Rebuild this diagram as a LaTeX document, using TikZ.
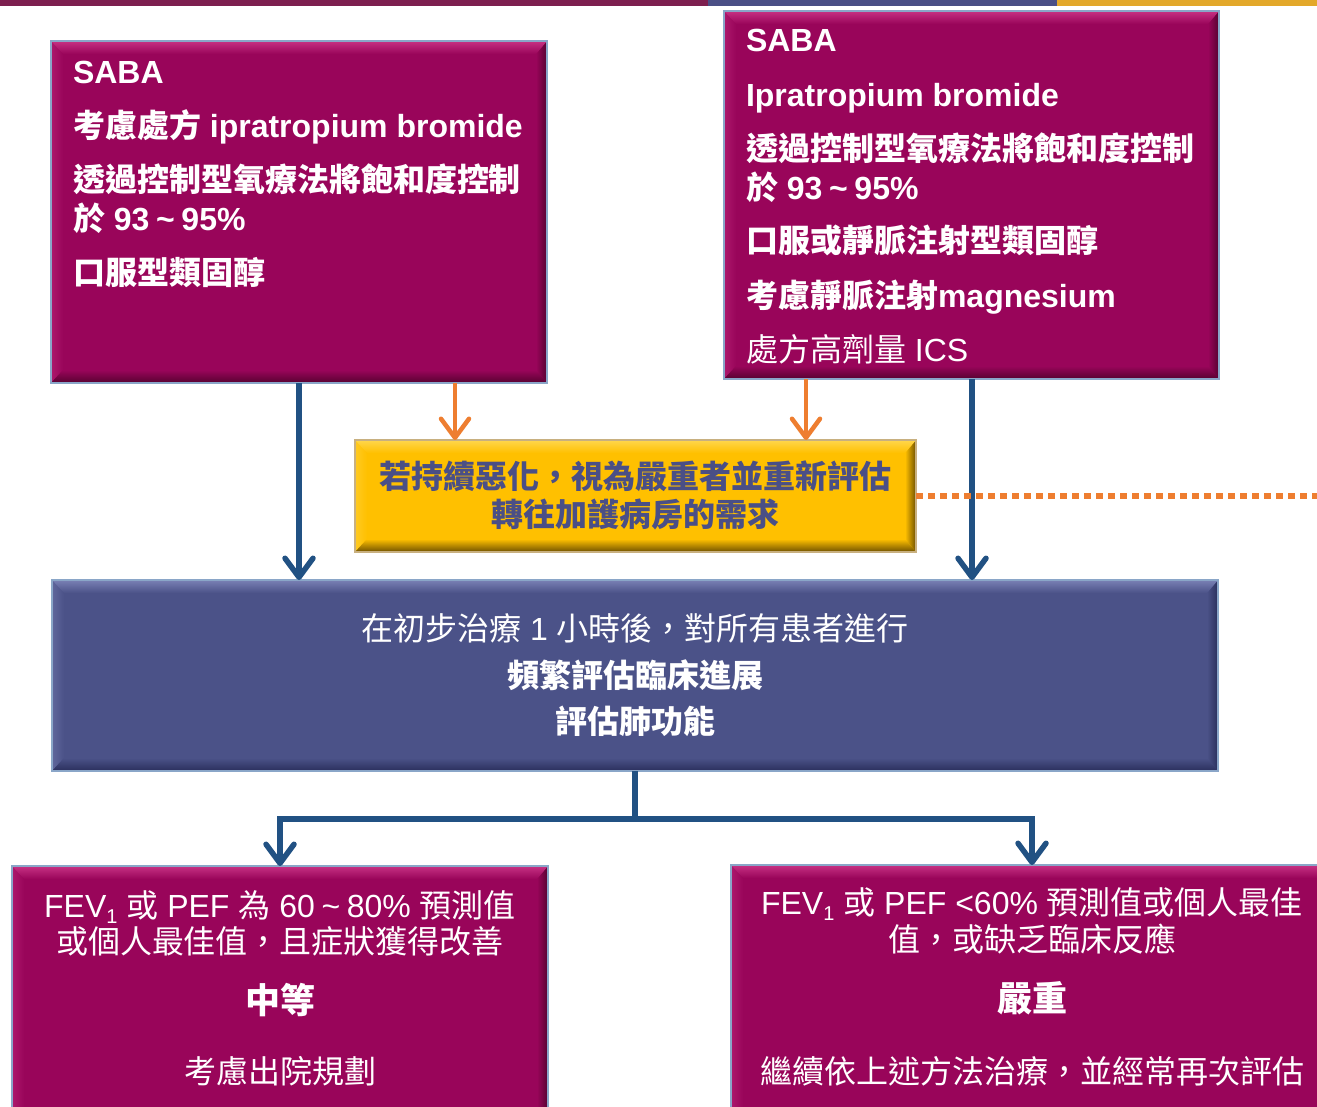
\documentclass[tikz,border=0pt]{standalone}
\usepackage{fontspec}
\setmainfont{Liberation Sans}
\newfontfamily\cjk{Noto Sans CJK TC}
\usetikzlibrary{arrows.meta}
\definecolor{mag}{HTML}{99055A}
\definecolor{magL}{HTML}{D23C8E}
\definecolor{magD}{HTML}{560230}
\definecolor{outl}{HTML}{8AA6C8}
\definecolor{slate}{HTML}{4B5288}
\definecolor{slateL}{HTML}{858CC0}
\definecolor{slateD}{HTML}{2A2F5C}
\definecolor{gold}{HTML}{FFC000}
\definecolor{goldL}{HTML}{FFDC60}
\definecolor{goldD}{HTML}{6E5000}
\definecolor{goutl}{HTML}{C8B080}
\definecolor{ytext}{HTML}{4A4F86}
\definecolor{arrblue}{HTML}{215183}
\definecolor{arrorange}{HTML}{EE7E30}
\definecolor{barM}{HTML}{7D1F4F}
\definecolor{barB}{HTML}{4B4F86}
\definecolor{barG}{HTML}{E3A82A}
\newcommand\zhx[1]{{\cjk #1}}
% small centred wave dash
\newcommand\zwave{\makebox[1em]{\textasciitilde}}
\newcommand\subone{\raisebox{-6pt}{\fontsize{20pt}{20pt}\selectfont 1}}
\tikzset{
  bevelbox/.style n args={3}{rectangle, inner sep=0pt, outer sep=0pt, fill=#1, draw=outl, line width=1.5pt,
    path picture={
      \path (path picture bounding box.north west) coordinate (pnw)
            (path picture bounding box.north east) coordinate (pne)
            (path picture bounding box.south west) coordinate (psw)
            (path picture bounding box.south east) coordinate (pse);
      \shade[left color=#2!35!#1, right color=#1] (pnw) -- ([shift={(12pt,-13pt)}]pnw) -- ([shift={(12pt,13pt)}]psw) -- (psw) -- cycle;
      \shade[left color=#1, right color=#3] (pne) -- ([shift={(-11pt,-13pt)}]pne) -- ([shift={(-11pt,13pt)}]pse) -- (pse) -- cycle;
      \shade[top color=#1, bottom color=#3] (psw) -- ([shift={(12pt,13pt)}]psw) -- ([shift={(-11pt,13pt)}]pse) -- (pse) -- cycle;
      \shade[top color=#2!80!#1, bottom color=#1] (pnw) -- (pne) -- ([shift={(-11pt,-13pt)}]pne) -- ([shift={(12pt,-13pt)}]pnw) -- cycle;
    }},
  txt/.style={inner sep=0pt, outer sep=0pt, text=white, font=\fontsize{32pt}{38pt}\selectfont},
  tl/.style={txt, anchor=base west, font=\fontsize{32pt}{38pt}\selectfont\bfseries},
  tc/.style={txt, anchor=base},
  tcb/.style={txt, anchor=base, font=\fontsize{32pt}{38pt}\selectfont\bfseries},
  big/.style={txt, anchor=base, font=\fontsize{35pt}{40pt}\selectfont\bfseries},
  ty/.style={txt, anchor=base, text=ytext, font=\fontsize{32pt}{38pt}\selectfont\bfseries},
  barrow/.style={draw=arrblue, line width=5.5pt, -{Straight Barb[length=19pt, width=28pt, round]}},
  oarrow/.style={draw=arrorange, line width=4.5pt, -{Straight Barb[length=19pt, width=28pt, round]}},
  bline/.style={draw=arrblue, line width=5.5pt},
  odots/.style={draw=arrorange, line width=6.5pt, dash pattern=on 6.5pt off 5.5pt},
}
\begin{document}
\begin{tikzpicture}[x=1pt,y=-1pt]
\useasboundingbox (0,0) rectangle (1317,1106);
\fill[white] (0,0) rectangle (1317,1106);
% top bar
\fill[barM] (0,0) rectangle (708,6);
\fill[barB] (708,0) rectangle (1057,6);
\fill[barG] (1057,0) rectangle (1317,6);

% boxes
\node[bevelbox={mag}{magL}{magD}, minimum width=496pt, minimum height=342pt, anchor=north west] (A) at (51,41) {};
\node[bevelbox={mag}{magL}{magD}, minimum width=495pt, minimum height=368pt, anchor=north west] (B) at (724,11) {};
\node[bevelbox={gold}{goldL}{goldD}, draw=goutl, minimum width=561pt, minimum height=112pt, anchor=north west] (Y) at (355,440) {};
\node[bevelbox={slate}{slateL}{slateD}, minimum width=1166pt, minimum height=191pt, anchor=north west] (M) at (52,580) {};
\node[bevelbox={mag}{magL}{magD}, minimum width=536pt, minimum height=264pt, anchor=north west] (L) at (12,866) {};
\node[bevelbox={mag}{magL}{magD}, minimum width=602pt, minimum height=265pt, anchor=north west] (R) at (731,865) {};

% box A text
\node[tl] (a1) at (73,83) {SABA};
\node[tl] (a2) at (73,137) {\zhx{考慮處方} ipratropium bromide};
\node[tl] (a3) at (73,191) {\zhx{透過控制型氧療法將飽和度控制}};
\node[tl] (a4) at (73,230) {\zhx{於} 93\zwave95\%};
\node[tl] (a5) at (73,284) {\zhx{口服型類固醇}};

% box B text
\node[tl] (b1) at (746,51) {SABA};
\node[tl] (b2) at (746,106) {Ipratropium bromide};
\node[tl] (b3) at (746,160) {\zhx{透過控制型氧療法將飽和度控制}};
\node[tl] (b4) at (746,199) {\zhx{於} 93\zwave95\%};
\node[tl] (b5) at (746,252) {\zhx{口服或靜脈注射型類固醇}};
\node[tl] (b6) at (746,307) {\zhx{考慮靜脈注射}magnesium};
\node[txt, anchor=base west] (b7) at (746,361) {\zhx{處方高劑量} ICS};

% yellow text
\node[ty] (y1) at (635,488) {\zhx{若持續惡化，視為嚴重者並重新評估}};
\node[ty] (y2) at (635,526) {\zhx{轉往加護病房的需求}};

% middle text
\node[tc] (m1) at (635,640) {\zhx{在初步治療} 1 \zhx{小時後，對所有患者進行}};
\node[tcb] (m2) at (635,687) {\zhx{頻繁評估臨床進展}};
\node[tcb] (m3) at (635,733) {\zhx{評估肺功能}};

% bottom left text
\node[tc] (l1) at (280,917) {FEV\subone{} \zhx{或} PEF \zhx{為} 60\zwave80\% \zhx{預測值}};
\node[tc] (l2) at (280,953) {\zhx{或個人最佳值，且症狀獲得改善}};
\node[big] (l3) at (280,1013) {\zhx{中等}};
\node[tc] (l4) at (280,1083) {\zhx{考慮出院規劃}};

% bottom right text
\node[tc] (r1) at (1032,914) {FEV\subone{} \zhx{或} PEF <60\% \zhx{預測值或個人最佳}};
\node[tc] (r2) at (1032,951) {\zhx{值，或缺乏臨床反應}};
\node[big] (r3) at (1032,1011) {\zhx{嚴重}};
\node[tc] (r4) at (1032,1083) {\zhx{繼續依上述方法治療，並經常再次評估}};

% connectors
\coordinate (xa) at (299,0);
\coordinate (xb) at (972,0);
\coordinate (oa) at (455,0);
\coordinate (ob) at (806,0);
\coordinate (jy) at (0,819);
\coordinate (dotend) at (1325,496);

\draw[barrow] (xa |- A.south) -- (xa |- M.north);
\draw[barrow] (xb |- B.south) -- (xb |- M.north);
\draw[oarrow] (oa |- A.south) -- (oa |- Y.north);
\draw[oarrow] (ob |- B.south) -- (ob |- Y.north);
\draw[odots] (Y.east) -- (dotend);

\draw[bline] (M.south) -- (M.south |- jy) coordinate (j);
\draw[barrow] (j) -| (L.north);
\draw[barrow] (j) -| (R.north);
\end{tikzpicture}
\end{document}
